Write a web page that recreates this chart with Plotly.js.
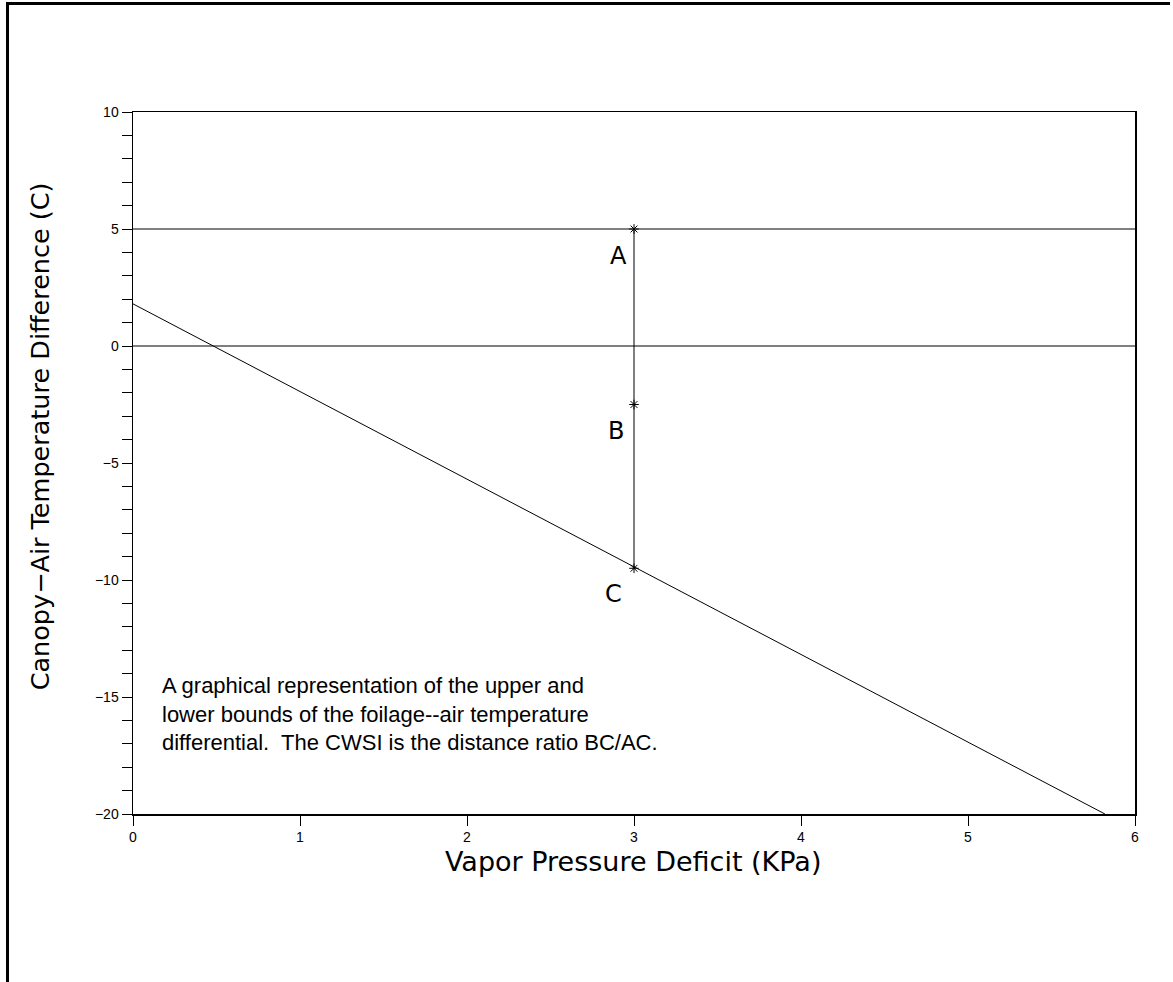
<!DOCTYPE html>
<html><head><meta charset="utf-8">
<script src="https://cdn.plot.ly/plotly-3.0.1.min.js"></script>
<style>
html,body{margin:0;padding:0;background:#fff;}
#wrap{position:relative;width:1173px;height:982px;}
#chart{width:1173px;height:982px;}
#frame{position:absolute;left:6px;top:2px;width:1164px;height:980px;border-left:3px solid #000;border-top:3px solid #000;box-sizing:border-box;pointer-events:none;}
</style></head>
<body>
<div id="wrap"><div id="chart"></div><div id="frame"></div></div>
<script>
// Data
const upperX = [0, 6];
const upperY = [5, 5];
const zeroX = [0, 6];
const zeroY = [0, 0];
const lowerX = [0, 5.82];
const lowerY = [1.8, -20];
const vpdPoint = [3, 3, 3];
const pointY = [5, -2.5, -9.5];
const pointLabels = ['A', 'B', 'C'];
const labelX = [2.91, 2.89, 2.88];
const labelY = [3.85, -3.63, -10.6];
const noteLines = [
  'A graphical representation of the upper and',
  'lower bounds of the foilage--air temperature',
  'differential.  The CWSI is the distance ratio BC/AC.'
];
const xTitle = 'Vapor Pressure Deficit (KPa)';
const yTitle = 'Canopy\u2212Air Temperature Difference (C)';

const strokeFont = 'DejaVu Sans, sans-serif';
const lineStyle = {color: '#000', width: 1};

const traces = [
  {x: upperX, y: upperY, mode: 'lines', line: lineStyle, hoverinfo: 'skip'},
  {x: zeroX, y: zeroY, mode: 'lines', line: lineStyle, hoverinfo: 'skip'},
  {x: lowerX, y: lowerY, mode: 'lines', line: lineStyle, hoverinfo: 'skip'},
  {x: vpdPoint, y: pointY, mode: 'lines+markers', line: lineStyle,
   marker: {symbol: 'asterisk-open', size: 8, color: '#000', line: {color: '#000', width: 1}}, hoverinfo: 'skip'}
];

const annotations = [];
pointLabels.forEach((t, i) => annotations.push({
  x: labelX[i], y: labelY[i], xref: 'x', yref: 'y', text: t, showarrow: false,
  xanchor: 'center', yanchor: 'middle', font: {family: strokeFont, size: 24, color: '#000'}
}));
annotations.push({
  x: 0.162, y: -15.73, xref: 'x', yref: 'y', text: noteLines.join('<br>'), showarrow: false,
  xanchor: 'left', yanchor: 'middle', align: 'left',
  font: {family: 'Liberation Sans, Arial, sans-serif', size: 22, color: '#000'}
});
annotations.push({
  x: 0.499, y: -0.067, xref: 'paper', yref: 'paper', text: xTitle, showarrow: false,
  xanchor: 'center', yanchor: 'middle', font: {family: strokeFont, size: 27, color: '#000'}
});
annotations.push({
  x: -0.0928, y: 0.538, xref: 'paper', yref: 'paper', text: yTitle, showarrow: false, textangle: -90,
  xanchor: 'center', yanchor: 'middle', font: {family: strokeFont, size: 25.5, color: '#000'}
});

const layout = {
  width: 1173, height: 982,
  margin: {l: 133, r: 38, t: 112, b: 168},
  paper_bgcolor: '#fff', plot_bgcolor: '#fff',
  showlegend: false,
  font: {family: 'Liberation Sans, Arial, sans-serif', size: 14, color: '#000'},
  xaxis: {
    range: [0, 6], dtick: 1, tick0: 0, ticks: 'outside', ticklen: 10, tickwidth: 1, tickcolor: '#000',
    showgrid: false, zeroline: false, showline: true, linecolor: '#000', linewidth: 1.5, mirror: true,
    tickfont: {size: 14}, fixedrange: true
  },
  yaxis: {
    range: [-20, 10], dtick: 5, tick0: 0, ticks: 'outside', ticklen: 10, tickwidth: 1, tickcolor: '#000',
    minor: {dtick: 1, ticks: 'outside', ticklen: 10, tickwidth: 1, tickcolor: '#000', showgrid: false},
    showgrid: false, zeroline: false, showline: true, linecolor: '#000', linewidth: 1.5, mirror: true,
    tickfont: {size: 14}, fixedrange: true
  },
  annotations: annotations
};

Plotly.newPlot('chart', traces, layout, {displayModeBar: false, staticPlot: true});
</script>
</body></html>
